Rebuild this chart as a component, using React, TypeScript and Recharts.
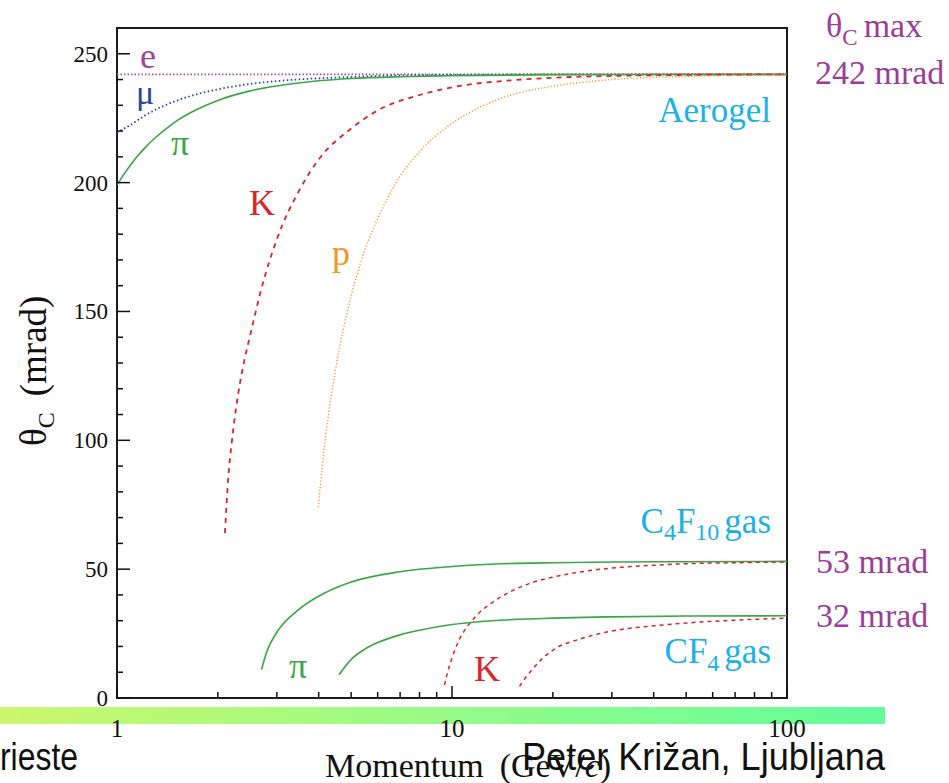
import React from 'react';
import { LineChart, Line, XAxis, YAxis, ReferenceArea } from 'recharts';

// momentum (GeV/c) and Cherenkov angle (mrad)
const eP = [1, 100];
const eTheta = [242, 242];

const muP = [1, 1.1, 1.2, 1.3, 1.5, 1.7, 2, 2.5, 3, 5, 7, 10, 20, 100];
const muTheta = [219.5, 222.5, 225.7, 228.2, 231.7, 234, 236.2, 238.3, 239.4, 241, 241.6, 241.8, 242, 242];

const piAeroP = [1, 1.05, 1.1, 1.15, 1.2, 1.3, 1.4, 1.5, 1.7, 2, 2.5, 3, 4, 5, 7, 10, 20, 50, 100];
const piAeroTheta = [199.1, 203.3, 207, 210.2, 212.9, 217.4, 220.9, 223.8, 227.9, 231.9, 235.6, 237.5, 239.5, 240.4, 241.1, 241.5, 241.9, 242, 242];

const kAeroP = [2.1, 2.15, 2.2, 2.3, 2.4, 2.5, 2.7, 3, 3.5, 4, 5, 6, 8, 10, 15, 20, 30, 50, 100];
const kAeroTheta = [64, 86, 99, 118, 131, 141, 159, 178, 197, 209, 221, 228, 234, 237, 239.7, 240.7, 241.4, 241.8, 242];

const pAeroP = [3.99, 4.1, 4.2, 4.5, 5, 5.5, 6, 7, 8, 10, 12, 15, 20, 30, 50, 100];
const pAeroTheta = [74, 90, 102, 128, 156, 174, 186, 202.5, 212, 223, 229, 234, 237.4, 240, 241.2, 241.8];

const piC4P = [2.7, 2.8, 3, 3.5, 4, 5, 7, 10, 15, 20, 30, 50, 100];
const piC4Theta = [11, 18, 25.5, 34.5, 39.5, 45, 49, 51, 52.2, 52.5, 52.8, 52.9, 53];

const kC4P = [9.5, 9.7, 10, 10.5, 11, 11.5, 12, 13, 15, 17, 20, 25, 30, 40, 50, 70, 100];
const kC4Theta = [5, 10, 15.5, 22.5, 27, 30.2, 32.8, 36.5, 41.4, 44.4, 46.9, 49.2, 50.4, 51.5, 52.1, 52.5, 52.8];

const piCF4P = [4.6, 5, 5.5, 6, 7, 8, 10, 12, 15, 20, 30, 50, 100];
const piCF4Theta = [9, 15, 19, 21.5, 24.5, 26.3, 28.5, 29.6, 30.4, 31, 31.5, 31.8, 31.9];

const kCF4P = [15.9, 16.5, 17.2, 18.5, 20.6, 24, 27.2, 32, 40, 54, 70, 100];
const kCF4Theta = [4.5, 7.5, 10.5, 15, 19.6, 22.8, 24.8, 26.6, 28, 29.4, 30.2, 31];

const xTicks = [1, 2, 3, 4, 5, 6, 7, 8, 9, 10, 20, 30, 40, 50, 60, 70, 80, 90, 100];
const xMajor = [1, 10, 100];
const yTicks = [0, 10, 20, 30, 40, 50, 60, 70, 80, 90, 100, 110, 120, 130, 140, 150, 160, 170, 180, 190, 200, 210, 220, 230, 240, 250];
const yMajor = [0, 50, 100, 150, 200, 250];

const toRows = (p: number[], t: number[]) => p.map((v, i) => ({ p: v, theta: t[i] }));

const SERIF = "'Liberation Serif', 'Times New Roman', serif";
const SANS = "'Liberation Sans', Arial, sans-serif";
const PURPLE = '#9c3d9a';
const CYAN = '#1ab2e6';
const GREEN = '#3aa845';
const RED = '#d8262c';
const ORANGE = '#f5961e';
const BLUE = '#2c4797';

const XTick = (props: any) => {
  const { x, y, payload } = props;
  const major = xMajor.includes(payload.value);
  return (
    <g>
      <line x1={x} x2={x} y1={y} y2={y - (major ? 12 : 6)} stroke="#111" strokeWidth={1.5} />
      {major && (
        <text x={x} y={y + 39} textAnchor="middle" fontFamily={SERIF} fontSize={25} fill="#111">
          {payload.value}
        </text>
      )}
    </g>
  );
};

const YTick = (props: any) => {
  const { x, y, payload } = props;
  const major = yMajor.includes(payload.value);
  return (
    <g>
      <line x1={x} x2={x + (major ? 13 : 6)} y1={y} y2={y} stroke="#111" strokeWidth={1.5} />
      {major && (
        <text x={x - 9} y={y + 8} textAnchor="end" fontFamily={SERIF} fontSize={23} fill="#111">
          {payload.value}
        </text>
      )}
    </g>
  );
};

export default function App() {
  return (
    <div style={{ position: 'absolute', left: 0, top: 0, width: 949, height: 783, background: '#fff', overflow: 'hidden' }}>
      <div
        style={{
          position: 'absolute',
          left: 0,
          top: 707,
          width: 885,
          height: 17,
          background: 'linear-gradient(to right, #cbf76c, #9cfb84 45%, #62fd9a)',
        }}
      />
      <div style={{ position: 'absolute', left: 0, top: 0 }}>
        <LineChart width={949} height={783} margin={{ top: 28, right: 162, bottom: 45, left: 57 }}>
          <XAxis
            dataKey="p"
            type="number"
            scale="log"
            domain={[1, 100]}
            allowDataOverflow
            ticks={xTicks}
            interval={0}
            height={40}
            tickSize={0}
            tickMargin={0}
            axisLine={false}
            tickLine={false}
            tick={<XTick />}
          />
          <YAxis
            type="number"
            domain={[0, 260]}
            ticks={yTicks}
            interval={0}
            width={60}
            tickSize={0}
            tickMargin={0}
            axisLine={false}
            tickLine={false}
            tick={<YTick />}
          />
          <ReferenceArea x1={1} x2={100} y1={0} y2={260} fill="none" fillOpacity={0} stroke="#1c1c1c" strokeWidth={2} />
          <Line data={toRows(eP, eTheta)} dataKey="theta" type="linear" stroke="#b048b0" strokeWidth={1.6} strokeDasharray="1.5 2" dot={false} isAnimationActive={false} />
          <Line data={toRows(muP, muTheta)} dataKey="theta" type="monotone" stroke={BLUE} strokeWidth={1.8} strokeDasharray="1.5 2.5" dot={false} isAnimationActive={false} />
          <Line data={toRows(piAeroP, piAeroTheta)} dataKey="theta" type="monotone" stroke={GREEN} strokeWidth={1.6} dot={false} isAnimationActive={false} />
          <Line data={toRows(kAeroP, kAeroTheta)} dataKey="theta" type="monotone" stroke={RED} strokeWidth={1.8} strokeDasharray="5 5" dot={false} isAnimationActive={false} />
          <Line data={toRows(pAeroP, pAeroTheta)} dataKey="theta" type="monotone" stroke={ORANGE} strokeWidth={1.4} strokeDasharray="1.2 2" dot={false} isAnimationActive={false} />
          <Line data={toRows(piC4P, piC4Theta)} dataKey="theta" type="monotone" stroke={GREEN} strokeWidth={1.6} dot={false} isAnimationActive={false} />
          <Line data={toRows(kC4P, kC4Theta)} dataKey="theta" type="monotone" stroke={RED} strokeWidth={1.5} strokeDasharray="4 4" dot={false} isAnimationActive={false} />
          <Line data={toRows(piCF4P, piCF4Theta)} dataKey="theta" type="monotone" stroke={GREEN} strokeWidth={1.6} dot={false} isAnimationActive={false} />
          <Line data={toRows(kCF4P, kCF4Theta)} dataKey="theta" type="monotone" stroke={RED} strokeWidth={1.5} strokeDasharray="4 4" dot={false} isAnimationActive={false} />
        </LineChart>
      </div>
      <svg width={949} height={783} style={{ position: 'absolute', left: 0, top: 0, pointerEvents: 'none' }}>
        <g fontFamily={SERIF}>
          {/* curve labels */}
          <text x={140} y={68} fontSize={36} fill="#a044a0">e</text>
          <text x={136} y={104} fontSize={34} fill={BLUE}>μ</text>
          <text x={171} y={155} fontSize={36} fill={GREEN}>π</text>
          <text x={249} y={215} fontSize={36} fill={RED}>K</text>
          <text x={332} y={265} fontSize={36} fill={ORANGE}>p</text>
          <text x={289} y={678} fontSize={36} fill={GREEN}>π</text>
          <text x={474} y={681} fontSize={36} fill={RED}>K</text>

          {/* medium labels */}
          <text x={771} y={122} fontSize={35} fill={CYAN} textAnchor="end">Aerogel</text>
          <text x={771} y={533} fontSize={35} fill={CYAN} textAnchor="end">
            C<tspan dy={7} fontSize={24}>4</tspan>
            <tspan dy={-7}>F</tspan>
            <tspan dy={7} fontSize={24}>10</tspan>
            <tspan dy={-7} dx={5}>gas</tspan>
          </text>
          <text x={771} y={663} fontSize={35} fill={CYAN} textAnchor="end">
            CF<tspan dy={8} fontSize={24}>4</tspan>
            <tspan dy={-8} dx={5}>gas</tspan>
          </text>

          {/* right side values */}
          <text x={826} y={37} fontSize={34} fill={PURPLE}>
            θ<tspan dy={8} fontSize={23}>C</tspan>
            <tspan dy={-8} dx={6}>max</tspan>
          </text>
          <text x={815} y={84} fontSize={34} fill={PURPLE}>242 mrad</text>
          <text x={816} y={573} fontSize={34} fill={PURPLE}>53 mrad</text>
          <text x={816} y={627} fontSize={34} fill={PURPLE}>32 mrad</text>

          {/* axis titles */}
          <text transform="rotate(-90)" x={-446} y={46} fontSize={37} fill="#111">
            θ<tspan dy={8} fontSize={24}>C</tspan>
            <tspan dy={-8} dx={16}>(mrad)</tspan>
          </text>
          <text x={325} y={777} fontSize={34} fill="#111">
            Momentum<tspan dx={16}>(GeV/</tspan>
            <tspan fontStyle="italic">c</tspan>)
          </text>
        </g>
        <g fontFamily={SANS} fill="#111">
          <text x={0} y={770} fontSize={38} textLength={78} lengthAdjust="spacingAndGlyphs">rieste</text>
          <text x={522} y={770} fontSize={38} textLength={363} lengthAdjust="spacingAndGlyphs">Peter Križan, Ljubljana</text>
        </g>
      </svg>
    </div>
  );
}
